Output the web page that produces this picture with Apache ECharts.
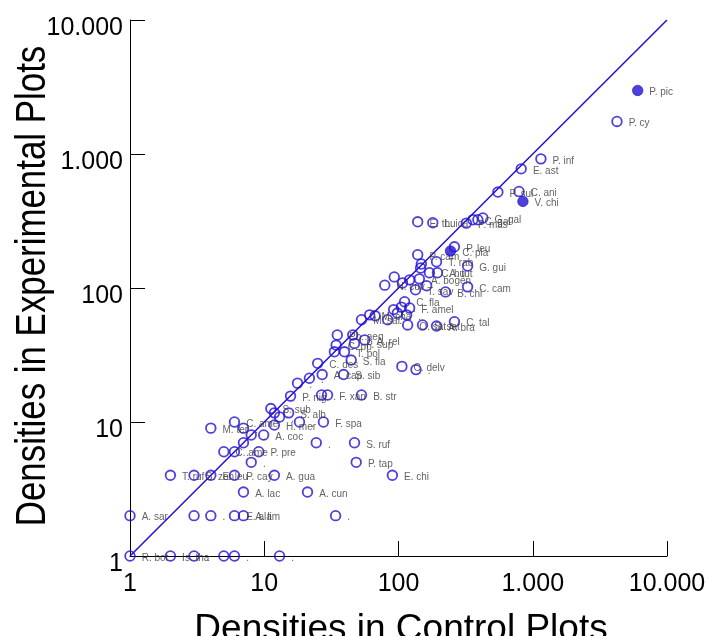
<!DOCTYPE html>
<html>
<head>
<meta charset="utf-8">
<script src="https://cdn.jsdelivr.net/npm/echarts@6/dist/echarts.min.js"></script>
<style>
  html, body { margin: 0; padding: 0; background: #fff; }
  #chart { width: 708px; height: 636px; }
</style>
</head>
<body>
<div id="chart"></div>
<script>
// Species abbreviations and their densities (control vs experimental plots)
const species = [
  'P. pic','P. cy','P. inf','E. ast','P. sul','C. ani','V. chi',
  'E. thu','L. ica','P. mas','C. gal','.','G. gal',
  'C. pla','P. leu','P. cam','.','G. gui','C. hu','A. tut','.','A. bogen','.','N. cuv','T. sav','.',
  'B. chi','C. cam','.','T. rab','.',
  'C. fla','.','.','F. amel','.','.','.','C. tal','A. bra','O. sat','S. sat','M. cha','.','M. sal',
  'Pb. aeq','.','C. pp','P. sup','T. pol','A. rel','.','S. fla','C. des','A. cap','S. sib','.','.',
  'C. delv','.',
  'P. nig','.','F. xan','B. str',
  'S. sub','.','.','S. alb','.','F. spa','C. ame','M. ter','.','.','A. coc','H. mer',
  '.','.','S. ruf','C. ame','.','P. pre','.','P. tap',
  'T. ruf','S. zon','E. leu','P. cay','A. gua','E. chi',
  'A. lac','A. cun',
  'A. sar','.','.','E. ala','A. lim','.',
  'R. bot','Is. tha','.','.','.','.'
];
const controlDensity = [
  6050, 4240, 1150, 820, 550, 790, 845,
  139, 180, 320, 358, 390, 425,
  244, 261, 139, 148, 327, 170, 195, 93, 143, 121, 79, 134, 162,
  224, 327, 107, 192, 146,
  111, 105, 92, 121, 115, 98, 83, 261, 192, 117, 151, 61, 67, 53,
  35, 45.6, 34.3, 47, 39.6, 56, 33.3, 44.4, 25, 27, 39, 21.7, 17.7,
  106, 135,
  15.7, 26.7, 29.6, 53,
  11.2, 11.9, 13, 15.2, 18.3, 27.6, 6, 4, 7, 8, 9.9, 11.9,
  7, 24.4, 47, 5, 6, 9.1, 8, 48.4,
  2, 3, 4, 6, 11.9, 90,
  7, 21,
  1, 3, 4, 6, 7, 34,
  1, 2, 3, 5, 6, 13
];
const experimentalDensity = [
  2980, 1750, 920, 775, 520, 525, 443,
  312, 307, 305, 323, 323, 333,
  189, 203, 177, 151, 146, 130, 130, 121, 117, 115, 105, 97, 104,
  93.5, 102, 109, 157, 141,
  79, 72, 69, 71, 63, 65, 58, 56, 52, 53, 53, 63, 62, 58,
  44.6, 44.6, 37.5, 38.6, 33.4, 41, 33.4, 29, 27.4, 22.6, 22.6, 21.2, 19.5,
  26, 24.6,
  15.6, 15.9, 15.9, 15.9,
  12.6, 11.7, 10.9, 11.7, 10, 10, 10, 9, 9, 8, 8, 9.5,
  7, 7, 7, 6, 6, 6, 5, 5,
  4, 4, 4, 4, 4, 4,
  3, 3,
  2, 2, 2, 2, 2, 2,
  1, 1, 1, 1, 1, 1
];
// Species drawn with a solid marker
const filledSpecies = ['P. pic', 'V. chi', 'C. pla'];

// Axis ticks (decades) and their printed form
const tickValues = [1, 10, 100, 1000, 10000];
const tickText = ['1', '10', '100', '1.000', '10.000'];

// 1:1 reference line end points
const diagonal = [1, 10000];

const xTitle = 'Densities in Control Plots';
const yTitle = 'Densities in Experimental Plots';

const blue = '#2010d2';
const fontFamily = '"Liberation Sans", Arial, sans-serif';

const openPoints = [];
const solidPoints = [];
species.forEach((name, i) => {
  const item = { name: name, value: [controlDensity[i], experimentalDensity[i]] };
  (filledSpecies.includes(name) ? solidPoints : openPoints).push(item);
});

const tickFormatter = v => {
  const k = tickValues.findIndex(t => Math.abs(t - v) / t < 1e-6);
  return k >= 0 ? tickText[k] : '';
};

const axisCommon = {
  type: 'log',
  logBase: 10,
  min: diagonal[0],
  max: diagonal[1],
  axisLine: { show: true, onZero: false, lineStyle: { color: '#000', width: 1 } },
  axisTick: { show: true, inside: true, length: 15, lineStyle: { color: '#000', width: 1 } },
  minorTick: { show: false },
  splitLine: { show: false },
  axisLabel: {
    fontFamily: fontFamily,
    fontSize: 25,
    color: '#000',
    formatter: tickFormatter,
    showMinLabel: true,
    showMaxLabel: true
  }
};

const labelStyle = {
  show: true,
  position: 'right',
  distance: 6,
  offset: [0, 2],
  formatter: p => p.name,
  fontFamily: fontFamily,
  fontSize: 10,
  color: '#3a3a3a'
};

const chart = echarts.init(document.getElementById('chart'), null, { renderer: 'canvas' });
chart.setOption({
  animation: false,
  backgroundColor: '#fff',
  grid: { left: 130, right: 41, top: 20, bottom: 80, containLabel: false, outerBoundsMode: 'none' },
  xAxis: Object.assign({}, axisCommon, {
    axisLabel: Object.assign({}, axisCommon.axisLabel, { margin: 16 })
  }),
  yAxis: Object.assign({}, axisCommon, {
    axisLabel: Object.assign({}, axisCommon.axisLabel, { margin: 7, verticalAlign: 'top', lineHeight: 16 })
  }),
  // Axis titles; the vertical one is set a little condensed
  graphic: [
    {
      type: 'text',
      x: 401, y: 630,
      style: { text: xTitle, font: '37px ' + fontFamily, fill: '#000', align: 'center', verticalAlign: 'middle' }
    },
    {
      type: 'text',
      x: 33, y: 286,
      rotation: Math.PI / 2,
      scaleX: 0.83,
      style: { text: yTitle, font: '42px ' + fontFamily, fill: '#000', align: 'center', verticalAlign: 'middle' }
    }
  ],
  series: [
    {
      type: 'line',
      data: [[diagonal[0], diagonal[0]], [diagonal[1], diagonal[1]]],
      symbol: 'none',
      lineStyle: { color: blue, width: 1.5 },
      z: 1,
      silent: true
    },
    {
      type: 'scatter',
      data: openPoints,
      symbol: 'circle',
      symbolSize: 9.6,
      itemStyle: { color: 'rgba(255,255,255,0)', borderColor: blue, borderWidth: 1.8 },
      label: labelStyle,
      z: 2
    },
    {
      type: 'scatter',
      data: solidPoints,
      symbol: 'circle',
      symbolSize: 10.5,
      itemStyle: { color: blue, borderColor: blue, borderWidth: 0.8 },
      label: labelStyle,
      z: 3
    }
  ]
});
</script>
</body>
</html>
